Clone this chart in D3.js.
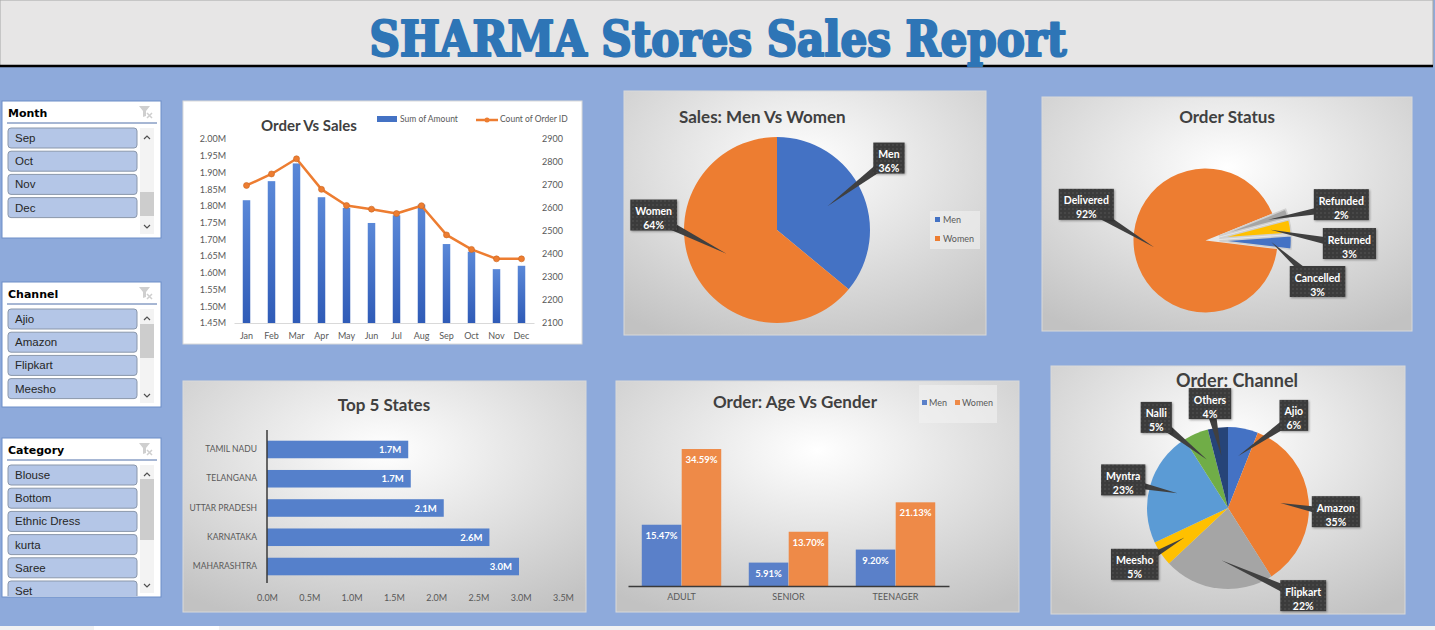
<!DOCTYPE html>
<html>
<head>
<meta charset="utf-8">
<script src="https://cdn.jsdelivr.net/npm/d3@7"></script>
<style>
  body { margin: 0; background: #8eaadb; overflow: hidden; }
  svg { display: block; }
  .tick text { fill: #595959; font-family: Lato, sans-serif; }
</style>
</head>
<body>
<div id="dash"></div>
<script>
// ---- data ----
const months = ['Jan', 'Feb', 'Mar', 'Apr', 'May', 'Jun', 'Jul', 'Aug', 'Sep', 'Oct', 'Nov', 'Dec'];
const monthAmount = [1.817, 1.874, 1.927, 1.826, 1.794, 1.749, 1.772, 1.804, 1.686, 1.663, 1.611, 1.621]; // millions
const monthOrders = [2698, 2748, 2814, 2681, 2611, 2595, 2576, 2610, 2483, 2420, 2379, 2379];

const genderNames = ['Men', 'Women'];
const genderShare = [36, 64];

const statusNames = ['Cancelled', 'Delivered', 'Refunded', 'Returned'];
const statusShare = [3, 92, 2, 3];

const channelNames = ['Ajio', 'Amazon', 'Flipkart', 'Meesho', 'Myntra', 'Nalli', 'Others'];
const channelShare = [6, 35, 22, 5, 23, 5, 4];

const stateNames = ['TAMIL NADU', 'TELANGANA', 'UTTAR PRADESH', 'KARNATAKA', 'MAHARASHTRA'];
const stateAmount = [1.67, 1.70, 2.09, 2.63, 2.98]; // millions

const ageGroups = ['ADULT', 'SENIOR', 'TEENAGER'];
const ageMen = [15.47, 5.91, 9.20];
const ageWomen = [34.59, 13.70, 21.13];

const slicerMonths = ['Sep', 'Oct', 'Nov', 'Dec'];
const slicerChannels = ['Ajio', 'Amazon', 'Flipkart', 'Meesho'];
const slicerCategories = ['Blouse', 'Bottom', 'Ethnic Dress', 'kurta', 'Saree', 'Set'];

// excel office palette
const office = ['#4472c4', '#ed7d31', '#a5a5a5', '#ffc000', '#5b9bd5', '#70ad47', '#264478'];

const W = 1435, H = 630;
const svg = d3.select('#dash').append('svg').attr('width', W).attr('height', H);
const defs = svg.append('defs');

// panel background gradient
const rg = defs.append('radialGradient').attr('id', 'panelBg')
  .attr('cx', '50%').attr('cy', '30%').attr('r', '80%');
rg.append('stop').attr('offset', '0%').attr('stop-color', '#ffffff');
rg.append('stop').attr('offset', '100%').attr('stop-color', '#c2c2c2');

// bar gradient for the column chart
const bg = defs.append('linearGradient').attr('id', 'colBar').attr('x1', 0).attr('y1', 0).attr('x2', 0).attr('y2', 1);
bg.append('stop').attr('offset', '0%').attr('stop-color', '#5a88d8');
bg.append('stop').attr('offset', '100%').attr('stop-color', '#2f5bb7');

// dotted dark fill for the callouts
const pat = defs.append('pattern').attr('id', 'calloutFill').attr('patternUnits', 'userSpaceOnUse')
  .attr('width', 4).attr('height', 4);
pat.append('rect').attr('width', 4).attr('height', 4).attr('fill', '#3b3b3b');
pat.append('circle').attr('cx', 1).attr('cy', 1).attr('r', 0.7).attr('fill', '#5c5c5c');

// ---- page frame ----
svg.append('rect').attr('width', W).attr('height', H).attr('fill', '#8eaadb');
svg.append('rect').attr('x', 0).attr('y', 0).attr('width', 1433).attr('height', 66)
  .attr('fill', '#e7e6e6').attr('stroke', '#a6a6a6').attr('stroke-width', 1);
svg.append('line').attr('x1', 0).attr('x2', 1433).attr('y1', 66).attr('y2', 66)
  .attr('stroke', '#000').attr('stroke-width', 2.5);
svg.append('text')
  .attr('x', 718).attr('y', 56)
  .attr('text-anchor', 'middle')
  .attr('textLength', 697).attr('lengthAdjust', 'spacingAndGlyphs')
  .style('font-family', "'DejaVu Serif Condensed', 'DejaVu Serif', serif")
  .style('font-weight', 'bold').style('font-size', '48px')
  .attr('fill', '#2e75b6')
  .attr('stroke', '#2e75b6').attr('stroke-width', 2.2).attr('stroke-linejoin', 'round')
  .text('SHARMA Stores Sales Report');

// sheet tab strip at the very bottom
svg.append('rect').attr('x', 0).attr('y', 626).attr('width', W).attr('height', 4).attr('fill', '#f2f2f2');
svg.append('rect').attr('x', 94).attr('y', 626).attr('width', 125).attr('height', 4).attr('fill', '#ffffff');

function panel(x, y, w, h, fill) {
  svg.append('rect').attr('x', x).attr('y', y).attr('width', w).attr('height', h)
    .attr('fill', fill).attr('stroke', '#d9d9d9').attr('stroke-width', 1);
}

function title(x, y, txt, anchor, size) {
  svg.append('text').attr('x', x).attr('y', y)
    .attr('text-anchor', anchor || 'middle')
    .style('font-family', 'Lato, sans-serif').style('font-weight', 'bold')
    .style('font-size', (size || 17) + 'px')
    .attr('fill', '#404040')
    .text(txt);
}

// ---- slicers ----
function slicer(x, y, w, h, name, items, thumbTop, thumbH) {
  const g = svg.append('g').attr('transform', `translate(${x},${y})`);
  const clipId = 'clip-' + name;
  // clip is in the group's own coordinates
  defs.append('clipPath').attr('id', clipId).append('rect').attr('x', 0).attr('y', 0).attr('width', w).attr('height', h - 1);
  g.append('rect').attr('width', w).attr('height', h).attr('fill', '#fff').attr('stroke', '#6d8ec8');
  g.append('text').attr('x', 6).attr('y', 16)
    .style('font-family', "'DejaVu Sans', sans-serif").style('font-weight', 'bold').style('font-size', '11px')
    .attr('fill', '#000').text(name);
  g.append('line').attr('x1', 5).attr('x2', w - 4).attr('y1', 22).attr('y2', 22)
    .attr('stroke', '#4f6fa8').attr('stroke-width', 1);

  // clear-filter icon (greyed out)
  const ic = g.append('g').attr('transform', `translate(${w - 22},5)`).attr('fill', '#cfcfcf');
  ic.append('path').attr('d', 'M0,0 L11,0 L7,5 L7,10 L4,11 L4,5 Z');
  ic.append('path').attr('d', 'M8,7 L13,12 M13,7 L8,12').attr('stroke', '#cfcfcf').attr('stroke-width', 1.5);

  const list = g.append('g').attr('clip-path', `url(#${clipId})`);
  const rows = list.selectAll('g.item').data(items).join('g')
    .attr('transform', (d, i) => `translate(6,${27 + i * 23.2})`);
  rows.append('rect').attr('width', 129).attr('height', 20).attr('rx', 3)
    .attr('fill', '#b4c6e7').attr('stroke', '#8a97ab');
  rows.append('text').attr('x', 7).attr('y', 14)
    .style('font-family', "'Liberation Sans', sans-serif").style('font-size', '11.5px')
    .attr('fill', '#262626').text(d => d);

  // scroll bar
  const sbH = h - 31;
  g.append('rect').attr('x', 138).attr('y', 27).attr('width', 14).attr('height', sbH).attr('fill', '#f3f3f3');
  g.append('rect').attr('x', 138).attr('y', thumbTop - y).attr('width', 14).attr('height', thumbH).attr('fill', '#cdcdcd');
  g.append('path').attr('d', `M142,${38} L145,${35} L148,${38}`).attr('fill', 'none').attr('stroke', '#505050').attr('stroke-width', 1.2);
  g.append('path').attr('d', `M142,${27 + sbH - 9} L145,${27 + sbH - 6} L148,${27 + sbH - 9}`)
    .attr('fill', 'none').attr('stroke', '#505050').attr('stroke-width', 1.2);
}

slicer(2, 101, 159, 137, 'Month', slicerMonths, 192, 24);
slicer(2, 282, 159, 125, 'Channel', slicerChannels, 324, 34);
slicer(2, 438, 159, 159, 'Category', slicerCategories, 479, 61);

// ---- Order Vs Sales (combo chart) ----
panel(183, 101, 399, 243, '#ffffff');
title(261, 131, 'Order Vs Sales', 'start', 15);

const xM = d3.scaleBand().domain(months).range([234, 534]).paddingInner(0.7).paddingOuter(0.35);
const yAmt = d3.scaleLinear().domain([1.45, 2.0]).range([323, 139]);
const yOrd = d3.scaleLinear().domain([2100, 2900]).range([323, 139]);

svg.append('g').selectAll('rect').data(months).join('rect')
  .attr('x', d => xM(d))
  .attr('y', (d, i) => yAmt(monthAmount[i]))
  .attr('width', xM.bandwidth())
  .attr('height', (d, i) => yAmt(1.45) - yAmt(monthAmount[i]))
  .attr('fill', 'url(#colBar)');

const gL = svg.append('g').attr('transform', 'translate(229,0)')
  .call(d3.axisLeft(yAmt).tickValues(d3.range(1.45, 2.001, 0.05)).tickFormat(d => d.toFixed(2) + 'M').tickSize(0).tickPadding(3));
gL.select('.domain').remove();
gL.selectAll('text').style('font-size', '9px');

const gR = svg.append('g').attr('transform', 'translate(539,0)')
  .call(d3.axisRight(yOrd).tickValues(d3.range(2100, 2901, 100)).tickFormat(d3.format('d')).tickSize(0).tickPadding(3));
gR.select('.domain').remove();
gR.selectAll('text').style('font-size', '9px');

const gB = svg.append('g').attr('transform', 'translate(0,323)')
  .call(d3.axisBottom(xM).tickSize(0).tickPadding(10));
gB.select('.domain').attr('stroke', '#d9d9d9');
gB.selectAll('text').style('font-size', '9px');

const ordLine = d3.line()
  .x((d, i) => xM(months[i]) + xM.bandwidth() / 2)
  .y(d => yOrd(d));
svg.append('path').datum(monthOrders)
  .attr('d', ordLine).attr('fill', 'none')
  .attr('stroke', '#ed7d31').attr('stroke-width', 2.5).attr('stroke-linejoin', 'round');
svg.append('g').selectAll('circle').data(monthOrders).join('circle')
  .attr('cx', (d, i) => xM(months[i]) + xM.bandwidth() / 2)
  .attr('cy', d => yOrd(d))
  .attr('r', 3).attr('fill', '#ed7d31').attr('stroke', '#c9651f').attr('stroke-width', 0.6);

// legend
const lg = svg.append('g').style('font-family', 'Lato, sans-serif').style('font-size', '8.5px').attr('fill', '#595959');
lg.append('rect').attr('x', 377).attr('y', 116).attr('width', 20).attr('height', 6).attr('fill', '#4472c4');
lg.append('text').attr('x', 400).attr('y', 122).text('Sum of Amount');
lg.append('line').attr('x1', 476).attr('x2', 498).attr('y1', 120).attr('y2', 120).attr('stroke', '#ed7d31').attr('stroke-width', 2.5);
lg.append('circle').attr('cx', 487).attr('cy', 120).attr('r', 2.5).attr('fill', '#ed7d31');
lg.append('text').attr('x', 500).attr('y', 122).text('Count of Order ID');

// ---- pies ----
function drawPie(o) {
  const g = svg.append('g');
  const a0 = o.rot * Math.PI / 180;
  const arcs = d3.pie().sort(null).startAngle(a0).endAngle(a0 + 2 * Math.PI)(o.values);
  const arc = d3.arc().innerRadius(0).outerRadius(o.r);
  const shift = (d, i) => {
    const e = o.explode ? o.explode[i] : 0;
    const m = (d.startAngle + d.endAngle) / 2;
    return [Math.sin(m) * e, -Math.cos(m) * e];
  };

  g.selectAll('path').data(arcs).join('path')
    .attr('d', arc)
    .attr('transform', (d, i) => { const s = shift(d, i); return `translate(${o.cx + s[0]},${o.cy + s[1]})`; })
    .attr('fill', (d, i) => o.colors[i])
    .attr('stroke', (d, i) => (o.explode && o.explode[i]) ? '#d0d0d0' : 'none')
    .attr('stroke-width', 1.5);

  const lab = svg.append('g').style('font-family', 'Lato, sans-serif').style('font-weight', 'bold').style('font-size', '10.5px');
  arcs.forEach((d, i) => {
    const m = (d.startAngle + d.endAngle) / 2;
    const s = shift(d, i);
    const tip = [o.cx + s[0] + Math.sin(m) * o.r * o.tipK, o.cy + s[1] - Math.cos(m) * o.r * o.tipK];
    const la = o.labelPos[i][0] * Math.PI / 180;
    const bx = o.cx + Math.sin(la) * o.labelPos[i][1];
    const by = o.cy - Math.cos(la) * o.labelPos[i][1];

    const lg = lab.append('g');
    const t1 = lg.append('text').attr('x', bx).attr('y', by - 2).attr('text-anchor', 'middle').attr('fill', '#fff').text(o.names[i]);
    const t2 = lg.append('text').attr('x', bx).attr('y', by + 12).attr('text-anchor', 'middle').attr('fill', '#fff').text(d.data + '%');
    const bw = Math.max(t1.node().getComputedTextLength(), t2.node().getComputedTextLength()) + 10;
    const bh = 31;

    // pointer wedge from the box to the slice
    const dx = tip[0] - bx, dy = tip[1] - by, len = Math.hypot(dx, dy);
    const px = -dy / len * 5, py = dx / len * 5;
    lg.insert('path', 'text')
      .attr('d', `M${bx + px},${by + py} L${tip[0]},${tip[1]} L${bx - px},${by - py} Z`)
      .attr('fill', '#404040');
    lg.insert('rect', 'text')
      .attr('x', bx - bw / 2).attr('y', by - bh / 2 - 2).attr('width', bw).attr('height', bh)
      .attr('fill', 'url(#calloutFill)')
      .style('filter', 'drop-shadow(1px 1px 1px rgba(0,0,0,0.35))');
  });
}

// Sales: Men Vs Women
panel(624, 91, 362, 244, 'url(#panelBg)');
title(679, 123, 'Sales: Men Vs Women', 'start');
drawPie({
  cx: 777, cy: 230, r: 93, rot: 0,
  values: genderShare, names: genderNames, colors: [office[0], office[1]],
  tipK: 0.6, labelPos: [[58, 132], [276, 124]]
});
const gl = svg.append('g').style('font-family', 'Lato, sans-serif').style('font-size', '9px').attr('fill', '#595959');
gl.append('rect').attr('x', 930).attr('y', 211).attr('width', 50).attr('height', 38).attr('fill', '#f2f2f2').attr('opacity', 0.6);
genderNames.forEach((n, i) => {
  gl.append('rect').attr('x', 935).attr('y', 217 + i * 19).attr('width', 5).attr('height', 5).attr('fill', office[i]);
  gl.append('text').attr('x', 943).attr('y', 223 + i * 19).text(n);
});

// Order Status
panel(1042, 97, 370, 234, 'url(#panelBg)');
title(1227, 123, 'Order Status');
drawPie({
  cx: 1205.5, cy: 240.5, r: 72, rot: 86,
  values: statusShare, names: statusNames, colors: [office[0], office[1], office[2], office[3]],
  explode: [14, 0, 14, 14],
  tipK: 0.72, labelPos: [[111, 120], [286, 124], [76, 140], [92, 144]]
});

// Order: Channel
panel(1051, 366, 354, 248, 'url(#panelBg)');
title(1237, 387, 'Order: Channel', 'middle', 18);
drawPie({
  cx: 1228, cy: 508, r: 81, rot: 0,
  values: channelShare, names: channelNames, colors: office,
  tipK: 0.65,
  labelPos: [[36, 112], [93, 108], [140, 117], [238, 110], [284, 108], [321, 114], [350, 104]]
});

// ---- Top 5 States ----
panel(183, 381, 403, 231, 'url(#panelBg)');
title(384, 411, 'Top 5 States');

const xS = d3.scaleLinear().domain([0, 3.5]).range([267, 563]);
const yS = d3.scaleBand().domain(stateNames).range([429, 587]).padding(0.4);

svg.append('g').selectAll('rect').data(stateNames).join('rect')
  .attr('x', xS(0)).attr('y', d => yS(d))
  .attr('width', (d, i) => xS(stateAmount[i]) - xS(0))
  .attr('height', yS.bandwidth())
  .attr('fill', '#5580cb');
svg.append('g').selectAll('text').data(stateNames).join('text')
  .attr('x', (d, i) => xS(stateAmount[i]) - 7)
  .attr('y', d => yS(d) + yS.bandwidth() / 2 + 3.5)
  .attr('text-anchor', 'end')
  .style('font-family', 'Lato, sans-serif').style('font-weight', 'bold').style('font-size', '9.5px')
  .attr('fill', '#fff')
  .text((d, i) => stateAmount[i].toFixed(1) + 'M');

const sY = svg.append('g').attr('transform', 'translate(267,0)')
  .call(d3.axisLeft(yS).tickSize(0).tickPadding(10));
sY.select('.domain').remove();
sY.selectAll('text').style('font-size', '8.5px').attr('fill', '#404040');
svg.append('line').attr('x1', 267).attr('x2', 267).attr('y1', 430).attr('y2', 583)
  .attr('stroke', '#3a3a3a').attr('stroke-width', 1.5);

const sX = svg.append('g').attr('transform', 'translate(0,583)')
  .call(d3.axisBottom(xS).tickValues(d3.range(0, 3.51, 0.5)).tickFormat(d => d.toFixed(1) + 'M').tickSize(0).tickPadding(12));
sX.select('.domain').remove();
sX.selectAll('text').style('font-size', '9px');

// ---- Order: Age Vs Gender ----
panel(616, 381, 403, 231, 'url(#panelBg)');
title(795, 408, 'Order: Age Vs Gender');

const x0 = d3.scaleBand().domain(ageGroups).range([628, 949]).paddingInner(0.25).paddingOuter(0.125);
const x1 = d3.scaleBand().domain(genderNames).range([0, x0.bandwidth()]).padding(0.01);
const yA = d3.scaleLinear().domain([0, 40]).range([586, 427.6]);
const ageColors = ['#5a80c9', '#ee8a48'];
const ageSeries = [ageMen, ageWomen];

const ag = svg.append('g');
genderNames.forEach((gname, s) => {
  ag.append('g').selectAll('rect').data(ageGroups).join('rect')
    .attr('x', d => x0(d) + x1(gname))
    .attr('y', (d, i) => yA(ageSeries[s][i]))
    .attr('width', x1.bandwidth())
    .attr('height', (d, i) => yA(0) - yA(ageSeries[s][i]))
    .attr('fill', ageColors[s]);
  ag.append('g').selectAll('text').data(ageGroups).join('text')
    .attr('x', d => x0(d) + x1(gname) + x1.bandwidth() / 2)
    .attr('y', (d, i) => yA(ageSeries[s][i]) + 14)
    .attr('text-anchor', 'middle')
    .style('font-family', 'Lato, sans-serif').style('font-weight', 'bold').style('font-size', '9.5px')
    .attr('fill', '#fff')
    .text((d, i) => ageSeries[s][i].toFixed(2) + '%');
});

const aX = svg.append('g').attr('transform', 'translate(0,586)')
  .call(d3.axisBottom(x0).tickSize(0).tickPadding(8));
aX.select('.domain').attr('stroke', '#3a3a3a').attr('stroke-width', 1.5);
aX.selectAll('text').style('font-size', '9px').attr('fill', '#404040');

const al = svg.append('g').style('font-family', 'Lato, sans-serif').style('font-size', '9px').attr('fill', '#595959');
al.append('rect').attr('x', 919).attr('y', 385).attr('width', 78).attr('height', 38).attr('fill', '#f2f2f2').attr('opacity', 0.6);
genderNames.forEach((n, i) => {
  al.append('rect').attr('x', 922 + i * 33).attr('y', 400).attr('width', 5).attr('height', 5).attr('fill', ageColors[i]);
  al.append('text').attr('x', 929 + i * 33).attr('y', 406).text(n);
});
</script>
</body>
</html>
